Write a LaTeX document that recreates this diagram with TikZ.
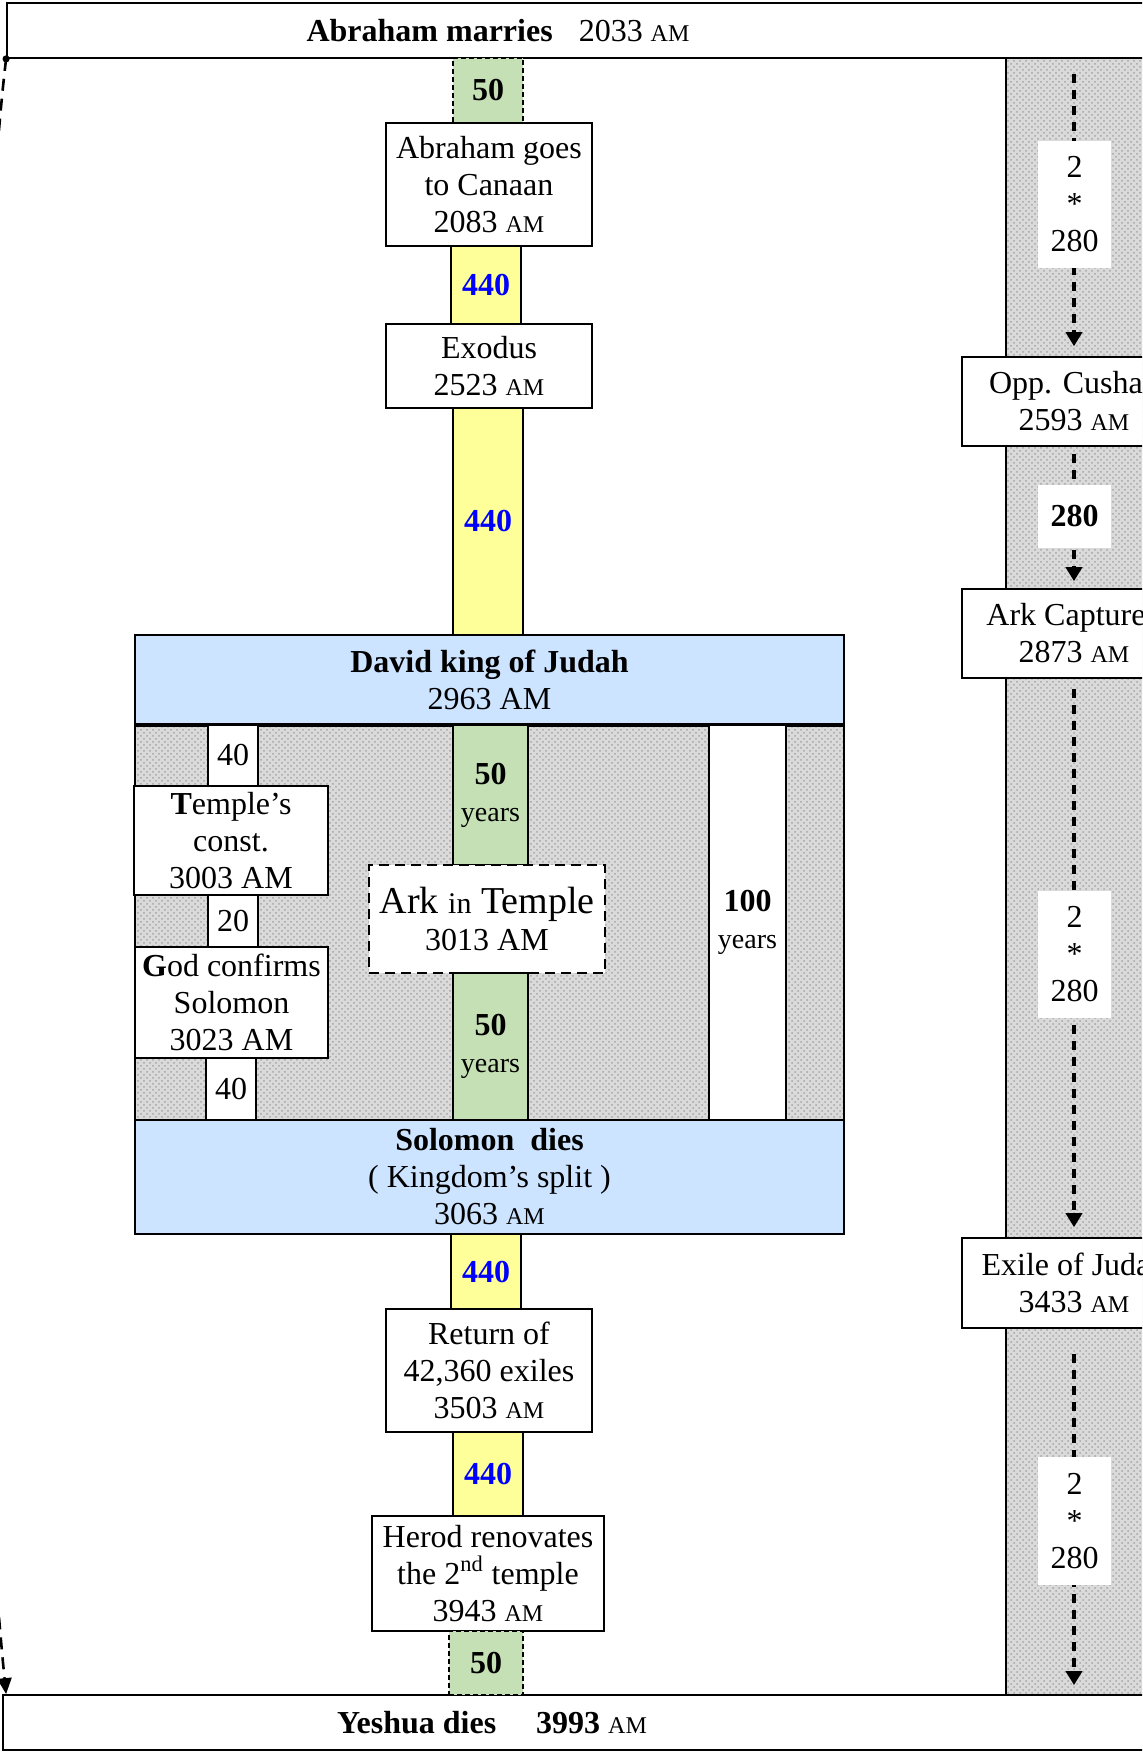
\documentclass[tikz,border=0pt]{standalone}
\usepackage{fontspec}
\setmainfont{Liberation Serif}
\usetikzlibrary{arrows.meta, patterns}
\definecolor{barYel}{RGB}{255,255,153}
\definecolor{barGrn}{RGB}{197,224,180}
\definecolor{kingBlu}{RGB}{204,228,255}
\definecolor{numBlu}{RGB}{0,0,255}
\definecolor{hatchBg}{RGB}{218,218,218}
\definecolor{hatchDot}{RGB}{165,165,165}
\newcommand{\am}{{\fontsize{12}{12}\selectfont AM}}
\newcommand{\yrs}{{\fontsize{14}{16}\selectfont years}}

\begin{document}
\begin{tikzpicture}[x=0.5pt, y=-0.5pt,
	every node/.style={font=\fontsize{16}{18.5}\selectfont, align=center, inner sep=0pt},
	evbox/.style={shape=rectangle, draw, line width=0.8pt, fill=white},
	kingbox/.style={shape=rectangle, draw, line width=1.1pt, fill=kingBlu},
	yelbar/.style={shape=rectangle, draw, line width=0.6pt, fill=barYel, minimum width=35pt, text=numBlu, font=\fontsize{16}{18.5}\selectfont\bfseries},
	grnbar/.style={shape=rectangle, draw, line width=0.6pt, fill=barGrn},
	grndash/.style={grnbar, dash pattern=on 2.5pt off 1.5pt, font=\fontsize{16}{18.5}\selectfont\bfseries},
	hatchgry/.style={preaction={fill=hatchBg}, pattern=crosshatch dots, pattern color=hatchDot},
	tally/.style={shape=rectangle, fill=white, minimum width=36.5pt},
	darr/.style={line width=1.8pt, dash pattern=on 4.5pt off 3.5pt, -{Triangle[width=8pt,length=7pt]}}]
	% Frame and grey stripes:
	\useasboundingbox (0,0) rectangle (1142,1753);
	\clip (0,0) rectangle (1142,1753);
	\path[hatchgry, draw, line width=0.8pt] (135,724) rectangle (844,1120);
	\path[hatchgry] (1006,58) rectangle (1160,1695);
	\draw[line width=0.8pt] (1006,58) -- (1006,1695);
	% Start and end of the line:
	\node[evbox, line width=0.9pt, minimum width=576.5pt, minimum height=27.5pt] (abrm) at (583.5,30.5) {};
	\node (abrmtxt) at (498,31) {\textbf{Abraham marries}\hspace{9pt} 2033 \am};
	\node[evbox, line width=0.9pt, minimum width=578.5pt, minimum height=27.5pt] (yeshua) at (581.5,1722.5) {};
	\node (yeshuatxt) at (492,1723) {\textbf{Yeshua dies}\hspace{16pt} \textbf{3993} \am};
	% Middle column:
	\node[grndash, minimum width=35pt, minimum height=32.5pt] (fifA) at (488,90.5) {50};
	\node[evbox, minimum width=103pt, minimum height=61.5pt] (canaan) at (489,184.5) {Abraham goes\\to Canaan\\2083 \am};
	\node[yelbar, minimum height=39pt] (fourA) at (486,285) {440};
	\node[evbox, minimum width=103pt, minimum height=42pt] (exodus) at (489,366) {Exodus\\2523 \am};
	\node[yelbar, minimum height=113.5pt] (fourB) at (488,521.5) {440};
	\node[kingbox, minimum width=354.5pt, minimum height=44.5pt] (david) at (489.5,679.5) {\textbf{David king of Judah}\\2963 AM};
	\draw[line width=2pt] (david.south west) -- (david.south east);
	\node[evbox, minimum width=25pt, minimum height=30.5pt] (fortyA) at (233,755.5) {40};
	\node[evbox, minimum width=97pt, minimum height=54.5pt] (temple) at (231,840.5) {\textbf{T}emple’s\\const.\\3003 AM};
	\node[evbox, minimum width=25pt, minimum height=26pt] (twenty) at (233,921) {20};
	\node[evbox, minimum width=96.5pt, minimum height=55.5pt] (godconf) at (231.5,1002.5) {\textbf{G}od confirms\\Solomon\\3023 AM};
	\node[evbox, minimum width=25pt, minimum height=31pt] (fortyB) at (231,1089) {40};
	\node[grnbar, minimum width=37.5pt, minimum height=70pt] (fifB) at (490.5,795) {\textbf{50}\\\yrs};
	\node[evbox, line width=1.4pt, dash pattern=on 5pt off 3pt, minimum width=118pt, minimum height=54pt] (ark) at (487,919) {{\fontsize{19}{22}\selectfont Ark {\fontsize{15}{15}\selectfont in} Temple}\\3013 AM};
	\node[grnbar, minimum width=37.5pt, minimum height=73.5pt] (fifC) at (490.5,1046.5) {\textbf{50}\\\yrs};
	\node[evbox, minimum width=38.5pt, minimum height=197.5pt] (hundred) at (747.5,922.5) {\textbf{100}\\\yrs};
	\node[kingbox, minimum width=354.5pt, minimum height=57pt] (solomon) at (489.5,1177) {\textbf{Solomon\ \ dies}\\( Kingdom’s split )\\3063 \am};
	\node[yelbar, minimum height=37.5pt] (fourC) at (486,1271.5) {440};
	\node[evbox, minimum width=103pt, minimum height=61.5pt] (return) at (489,1370.5) {Return of\\42,360 exiles\\3503 \am};
	\node[yelbar, minimum height=42pt] (fourD) at (488,1474) {440};
	\node[evbox, minimum width=116pt, minimum height=57.5pt] (herod) at (488,1573.5) {Herod renovates\\the 2\textsuperscript{nd} temple\\3943 \am};
	\node[grndash, minimum width=37pt, minimum height=32pt] (fifD) at (486,1663) {50};
	% Right column:
	\node[evbox, minimum width=112pt, minimum height=44.5pt] (cusha) at (1074,401.5) {Opp. Cushan\\2593 \am};
	\node[evbox, minimum width=112pt, minimum height=44.5pt] (arkcap) at (1074,633.5) {Ark Captured\\2873 \am};
	\node[evbox, minimum width=112pt, minimum height=45pt] (exile) at (1074,1283) {Exile of Judah\\3433 \am};
	\draw[darr, shorten <=7.5pt, shorten >=5pt] (cusha.north |- abrm.south) -- (cusha.north);
	\draw[darr, shorten <=3.5pt, shorten >=3.5pt] (cusha.south) -- (arkcap.north);
	\draw[darr, shorten <=5pt, shorten >=5pt] (arkcap.south) -- (exile.north);
	\draw[darr, shorten <=12.5pt, shorten >=4.5pt] (exile.south) -- (exile.south |- yeshua.north);
	\node[tally, minimum height=63.5pt] (tallyA) at (1074.5,204.5) {2\\*\\280};
	\node[tally, minimum height=31.5pt] (tallyB) at (1074.5,516.5) {\textbf{280}};
	\node[tally, minimum height=63.5pt] (tallyC) at (1074.5,954.5) {2\\*\\280};
	\node[tally, minimum height=64pt] (tallyD) at (1074.5,1521) {2\\*\\280};
	% Left loop:
	\draw[line width=1.3pt, dash pattern=on 6pt off 4pt, -{Triangle[width=7pt,length=8pt]}] (abrm.south west) .. controls +(-35,290) and +(-45,-450) .. ([xshift=2pt]yeshua.north west);
	\fill (abrm.south west) circle (1.8pt);
\end{tikzpicture}
\end{document}
